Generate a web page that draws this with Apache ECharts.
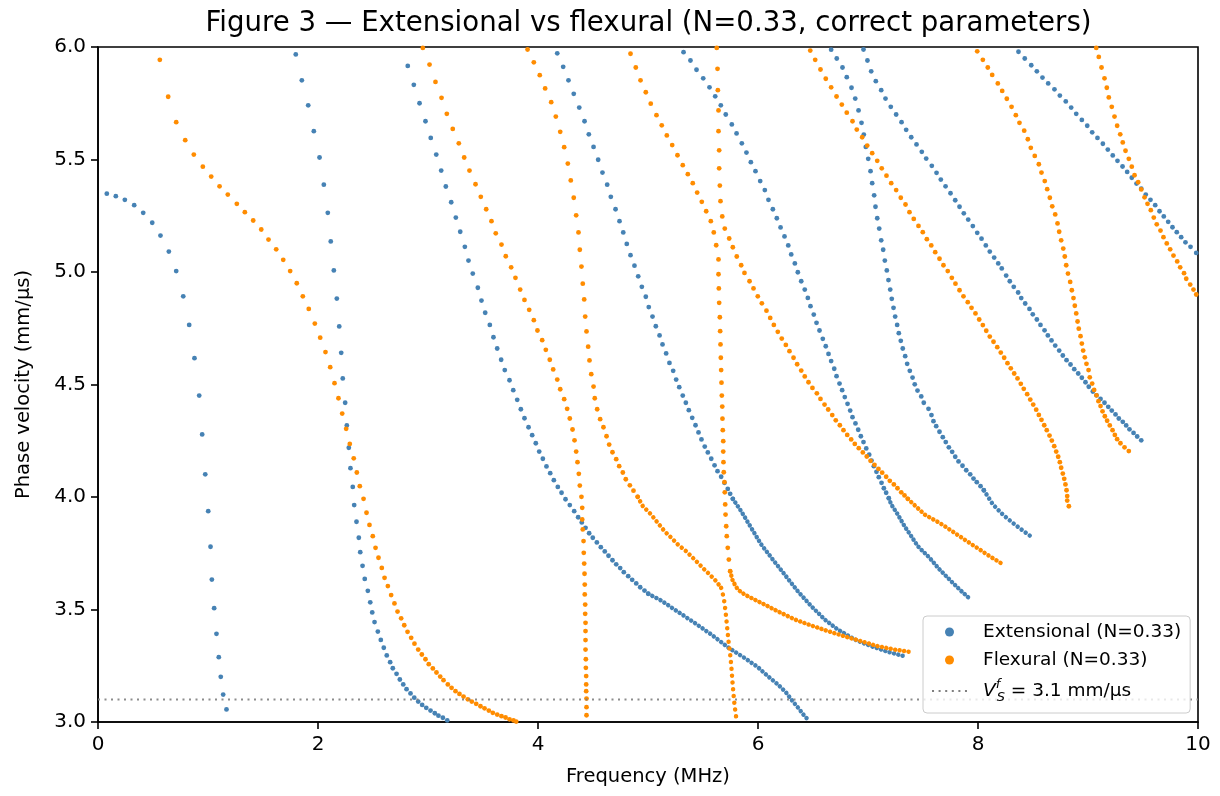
<!DOCTYPE html>
<html><head><meta charset="utf-8">
<script src="https://cdn.jsdelivr.net/npm/echarts@6/dist/echarts.min.js"></script>
<style>html,body{margin:0;padding:0;background:#fff}#chart{width:1220px;height:796px}</style>
</head><body><div id="chart"></div>
<script>
// ---- data (frequency MHz, phase velocity mm/us) ----
const titleText = 'Figure 3 \u2014 Extensional vs flexural (N=0.33, correct parameters)';
const xName = 'Frequency (MHz)';
const yName = 'Phase velocity (mm/\u03bcs)';
const xRange = [0, 10];
const yRange = [3, 6];
const xStep = 2;
const yStep = 0.5;
const vsValue = 3.1;

const ext1Dots = [[0.080,5.348],[0.162,5.337],[0.244,5.321],[0.329,5.297],[0.411,5.263],[0.493,5.219],[0.568,5.162],[0.644,5.091],[0.711,5.004],[0.775,4.892],[0.829,4.765],[0.877,4.617],[0.920,4.451],[0.947,4.278],[0.975,4.101],[1.002,3.937],[1.023,3.779],[1.035,3.633],[1.056,3.506],[1.077,3.392],[1.098,3.288],[1.116,3.201],[1.138,3.122],[1.168,3.056]];
const ext2Dots = [[1.798,5.967],[1.853,5.852],[1.911,5.741],[1.962,5.626],[2.014,5.509],[2.053,5.388],[2.089,5.263],[2.116,5.136],[2.144,5.007],[2.171,4.882],[2.193,4.758],[2.211,4.641],[2.225,4.527],[2.247,4.419],[2.262,4.318],[2.280,4.219],[2.295,4.128],[2.316,4.045],[2.329,3.964],[2.350,3.890],[2.371,3.819],[2.384,3.755],[2.405,3.694],[2.425,3.636],[2.453,3.583],[2.475,3.532],[2.493,3.487],[2.514,3.444],[2.544,3.402],[2.571,3.365],[2.598,3.330],[2.625,3.296],[2.656,3.266],[2.680,3.239],[2.714,3.214],[2.744,3.189],[2.775,3.167],[2.805,3.146],[2.841,3.127],[2.875,3.108],[2.911,3.091],[2.947,3.076],[2.984,3.063],[3.023,3.051],[3.062,3.039],[3.095,3.028],[3.135,3.019],[3.175,3.007]];
const ext3Dots = [[2.816,5.916],[2.871,5.832],[2.923,5.750],[2.977,5.670],[3.025,5.596],[3.075,5.522],[3.120,5.451],[3.162,5.380],[3.211,5.310],[3.253,5.242],[3.293,5.179],[3.335,5.112],[3.368,5.051],[3.407,4.993],[3.453,4.930],[3.486,4.873],[3.520,4.819],[3.562,4.765],[3.595,4.710],[3.629,4.660],[3.665,4.610],[3.698,4.564],[3.741,4.519],[3.775,4.475],[3.811,4.432],[3.844,4.390],[3.877,4.350],[3.914,4.310],[3.947,4.275],[3.980,4.239],[4.011,4.202],[4.044,4.170],[4.077,4.136],[4.111,4.106],[4.144,4.075],[4.180,4.045],[4.214,4.019],[4.250,3.990],[4.289,3.964],[4.329,3.937],[4.365,3.910],[4.398,3.887],[4.432,3.863],[4.465,3.839],[4.498,3.819],[4.535,3.798],[4.571,3.777],[4.607,3.758],[4.641,3.739],[4.677,3.719],[4.711,3.701],[4.747,3.684],[4.780,3.666],[4.820,3.648],[4.856,3.632],[4.893,3.616],[4.929,3.599],[4.968,3.584],[5.002,3.570]];
const ext3Trace = [[5.002,3.570],[5.120,3.540],[5.271,3.490],[5.423,3.441],[5.575,3.389],[5.741,3.327],[5.877,3.285],[5.998,3.244],[6.089,3.204],[6.180,3.167],[6.256,3.130],[6.316,3.092],[6.377,3.056],[6.423,3.026],[6.468,3.004]];
const ext4Dots = [[4.175,5.972],[4.229,5.912],[4.277,5.852],[4.325,5.792],[4.375,5.731],[4.423,5.670],[4.462,5.612],[4.505,5.556],[4.547,5.499],[4.586,5.442],[4.629,5.388],[4.662,5.334],[4.705,5.279],[4.741,5.226],[4.775,5.176],[4.807,5.125],[4.841,5.075],[4.877,5.028],[4.911,4.981],[4.944,4.934],[4.980,4.890],[5.007,4.844],[5.041,4.802],[5.071,4.759],[5.105,4.718],[5.132,4.678],[5.165,4.638],[5.195,4.596],[5.229,4.561],[5.256,4.522],[5.284,4.488],[5.316,4.451],[5.344,4.419],[5.371,4.386],[5.402,4.352],[5.432,4.319],[5.459,4.287],[5.486,4.256],[5.516,4.224],[5.544,4.198],[5.575,4.170],[5.605,4.141],[5.632,4.115],[5.665,4.090],[5.695,4.063],[5.725,4.036],[5.747,4.014],[5.771,3.992]];
const ext4Trace = [[5.771,3.992],[5.847,3.937],[5.938,3.863],[6.029,3.789],[6.135,3.722],[6.241,3.656],[6.362,3.581],[6.484,3.515],[6.605,3.456],[6.725,3.411],[6.877,3.367],[7.029,3.337],[7.180,3.312],[7.332,3.292]];
const ext5Dots = [[5.323,5.977],[5.386,5.940],[5.441,5.899],[5.502,5.861],[5.559,5.821],[5.611,5.781],[5.662,5.741],[5.707,5.700],[5.762,5.656],[5.805,5.616],[5.853,5.572],[5.895,5.531],[5.935,5.488],[5.977,5.448],[6.020,5.404],[6.062,5.364],[6.095,5.321],[6.135,5.279],[6.171,5.239],[6.205,5.198],[6.241,5.158],[6.275,5.118],[6.302,5.078],[6.335,5.038],[6.362,4.999],[6.393,4.959],[6.425,4.922],[6.453,4.885],[6.477,4.848],[6.507,4.811],[6.532,4.774],[6.559,4.740],[6.589,4.703],[6.616,4.670],[6.641,4.636],[6.665,4.604],[6.693,4.570],[6.714,4.537],[6.741,4.504],[6.765,4.475],[6.789,4.444],[6.814,4.414],[6.838,4.384],[6.859,4.355],[6.886,4.327],[6.911,4.299],[6.935,4.270],[6.959,4.244],[6.984,4.216],[7.011,4.188],[7.032,4.162],[7.053,4.137],[7.077,4.112],[7.098,4.088],[7.123,4.063],[7.144,4.039],[7.165,4.019],[7.189,3.995]];
const ext5Trace = [[7.189,3.995],[7.211,3.967],[7.271,3.922],[7.332,3.870],[7.393,3.826],[7.453,3.781],[7.559,3.730],[7.650,3.678],[7.741,3.633],[7.832,3.589],[7.916,3.552]];
const ext6Dots = [[6.665,5.988],[6.716,5.949],[6.768,5.909],[6.807,5.866],[6.850,5.819],[6.884,5.771],[6.914,5.718],[6.941,5.663],[6.962,5.611],[6.980,5.556],[7.002,5.503],[7.023,5.448],[7.038,5.395],[7.056,5.341],[7.068,5.290],[7.084,5.239],[7.102,5.193],[7.120,5.141],[7.138,5.099],[7.153,5.051],[7.171,5.007],[7.186,4.964],[7.202,4.922],[7.216,4.881],[7.232,4.841],[7.247,4.802],[7.265,4.765],[7.280,4.728],[7.298,4.694],[7.316,4.660],[7.338,4.626],[7.356,4.592],[7.380,4.561],[7.405,4.531],[7.425,4.501],[7.450,4.473],[7.484,4.447],[7.507,4.419],[7.550,4.392],[7.577,4.364],[7.595,4.337],[7.620,4.315],[7.650,4.290],[7.680,4.266],[7.707,4.244],[7.735,4.221],[7.765,4.201],[7.793,4.179],[7.823,4.158],[7.859,4.139],[7.893,4.119],[7.929,4.101],[7.959,4.082],[7.989,4.066],[8.023,4.048],[8.053,4.030]];
const ext6Trace = [[8.053,4.030],[8.135,3.967],[8.225,3.922],[8.316,3.885],[8.407,3.851],[8.507,3.816]];
const ext7Dots = [[6.959,5.989],[6.995,5.940],[7.029,5.892],[7.071,5.848],[7.120,5.808],[7.159,5.771],[7.207,5.734],[7.256,5.700],[7.305,5.666],[7.347,5.632],[7.393,5.599],[7.441,5.567],[7.489,5.534],[7.529,5.504],[7.580,5.472],[7.623,5.441],[7.662,5.411],[7.705,5.381],[7.750,5.350],[7.793,5.319],[7.832,5.290],[7.871,5.261],[7.911,5.233],[7.953,5.204],[7.993,5.174],[8.032,5.148],[8.071,5.118],[8.107,5.091],[8.147,5.064],[8.184,5.038],[8.216,5.016],[8.256,4.984],[8.289,4.959],[8.325,4.934],[8.365,4.909],[8.393,4.884],[8.429,4.860],[8.468,4.836],[8.498,4.812],[8.535,4.789],[8.568,4.765],[8.605,4.741],[8.635,4.718],[8.668,4.696],[8.702,4.673],[8.738,4.651],[8.771,4.629],[8.805,4.608],[8.841,4.589],[8.875,4.568],[8.911,4.549],[8.944,4.530],[8.977,4.510],[9.007,4.490],[9.044,4.469],[9.077,4.452],[9.114,4.436],[9.150,4.419],[9.184,4.401],[9.216,4.384],[9.250,4.367],[9.280,4.349],[9.316,4.334],[9.347,4.318],[9.377,4.301],[9.414,4.285],[9.447,4.269],[9.484,4.252]];
const ext8Dots = [[8.368,5.979],[8.425,5.949],[8.484,5.919],[8.535,5.892],[8.586,5.864],[8.638,5.838],[8.695,5.812],[8.744,5.784],[8.798,5.758],[8.847,5.731],[8.893,5.703],[8.944,5.676],[8.993,5.650],[9.038,5.621],[9.086,5.596],[9.135,5.570],[9.180,5.544],[9.225,5.518],[9.268,5.494],[9.314,5.469],[9.356,5.445],[9.398,5.419],[9.441,5.393],[9.484,5.370],[9.525,5.344],[9.568,5.321],[9.611,5.297],[9.650,5.270],[9.689,5.247],[9.729,5.223],[9.768,5.199],[9.807,5.177],[9.847,5.155],[9.886,5.132],[9.932,5.112],[9.984,5.085]];

const flex1Dots = [[0.562,5.943],[0.638,5.779],[0.711,5.666],[0.793,5.586],[0.871,5.522],[0.953,5.468],[1.029,5.424],[1.105,5.381],[1.180,5.344],[1.262,5.303],[1.335,5.266],[1.411,5.229],[1.484,5.189],[1.550,5.144],[1.620,5.101],[1.684,5.054],[1.747,5.004],[1.807,4.950],[1.862,4.892],[1.916,4.836],[1.971,4.771],[2.020,4.708],[2.068,4.644],[2.111,4.577],[2.150,4.506],[2.186,4.439],[2.220,4.371],[2.256,4.303],[2.289,4.236],[2.325,4.172],[2.353,4.109],[2.380,4.048],[2.414,3.992],[2.441,3.930],[2.468,3.876],[2.498,3.826],[2.523,3.774],[2.550,3.730],[2.580,3.685],[2.605,3.641],[2.635,3.604],[2.665,3.564],[2.695,3.527],[2.723,3.491],[2.756,3.461],[2.784,3.430],[2.814,3.401],[2.847,3.374],[2.877,3.348],[2.911,3.322],[2.944,3.300],[2.977,3.279],[3.007,3.257],[3.044,3.238],[3.077,3.220],[3.111,3.202],[3.141,3.186],[3.180,3.167],[3.214,3.152],[3.250,3.137],[3.286,3.125],[3.323,3.113],[3.362,3.101],[3.398,3.091],[3.438,3.081],[3.477,3.070],[3.514,3.061],[3.553,3.051],[3.589,3.041],[3.629,3.033],[3.668,3.026],[3.705,3.020],[3.741,3.012],[3.777,3.007],[3.802,3.002]];
const flex2Dots = [[2.953,5.996],[3.014,5.922],[3.068,5.845],[3.123,5.774],[3.171,5.703],[3.225,5.636],[3.280,5.572],[3.329,5.509],[3.377,5.451],[3.432,5.390],[3.480,5.334],[3.529,5.279],[3.577,5.226],[3.616,5.172],[3.668,5.122],[3.707,5.070],[3.756,5.021],[3.795,4.974],[3.838,4.922],[3.877,4.876],[3.920,4.832],[3.962,4.786],[3.995,4.740],[4.038,4.697],[4.071,4.654],[4.107,4.610],[4.138,4.567],[4.175,4.522],[4.202,4.479],[4.238,4.435],[4.265,4.392],[4.289,4.349],[4.314,4.300],[4.332,4.252],[4.347,4.202],[4.359,4.155],[4.371,4.103],[4.380,4.051],[4.395,4.001],[4.402,3.952],[4.402,3.900],[4.407,3.856],[4.414,3.804],[4.416,3.752],[4.420,3.704],[4.423,3.659],[4.425,3.611],[4.425,3.567],[4.429,3.522],[4.429,3.481],[4.432,3.441],[4.432,3.404],[4.432,3.364],[4.432,3.322],[4.435,3.279],[4.435,3.241],[4.438,3.204],[4.438,3.167],[4.438,3.137],[4.441,3.104],[4.441,3.066],[4.441,3.030]];
const flex3Dots = [[3.905,5.989],[3.962,5.932],[4.016,5.875],[4.065,5.816],[4.120,5.755],[4.162,5.691],[4.202,5.623],[4.238,5.555],[4.271,5.482],[4.298,5.407],[4.325,5.330],[4.347,5.252],[4.368,5.176],[4.380,5.099],[4.395,5.024],[4.407,4.948],[4.420,4.878],[4.429,4.802],[4.441,4.736],[4.456,4.668],[4.468,4.607],[4.484,4.546],[4.505,4.491],[4.516,4.439],[4.538,4.390],[4.565,4.346],[4.595,4.310],[4.623,4.270],[4.647,4.233],[4.677,4.199],[4.711,4.168],[4.738,4.137],[4.771,4.109],[4.798,4.079],[4.835,4.052],[4.868,4.028],[4.906,4.001]];
const flex3TraceA = [[4.906,4.001],[4.953,3.959],[5.029,3.922],[5.089,3.885],[5.150,3.848],[5.211,3.819],[5.271,3.789],[5.347,3.759],[5.423,3.722],[5.498,3.685],[5.575,3.648],[5.620,3.626],[5.665,3.596]];
const flex3TraceB = [[5.665,3.596],[5.689,3.552],[5.705,3.492],[5.720,3.419],[5.732,3.359],[5.744,3.315],[5.756,3.256],[5.765,3.196],[5.775,3.137],[5.786,3.078],[5.798,3.033],[5.807,3.004]];
const flex4Dots = [[4.841,5.970],[4.889,5.909],[4.932,5.852],[4.980,5.799],[5.025,5.748],[5.077,5.697],[5.125,5.652],[5.171,5.607],[5.220,5.564],[5.268,5.519],[5.316,5.475],[5.362,5.435],[5.407,5.395],[5.447,5.353],[5.489,5.312],[5.529,5.270],[5.571,5.226],[5.598,5.176],[5.620,5.119],[5.641,5.056],[5.641,4.990],[5.644,4.927],[5.647,4.863],[5.653,4.799],[5.656,4.737],[5.659,4.678],[5.662,4.619],[5.665,4.564],[5.668,4.508],[5.671,4.451],[5.675,4.402],[5.677,4.348],[5.680,4.297],[5.684,4.248],[5.684,4.202],[5.686,4.155],[5.689,4.110],[5.695,4.066],[5.698,4.021],[5.702,3.967],[5.705,3.922],[5.711,3.870],[5.716,3.826],[5.725,3.774],[5.735,3.722],[5.747,3.670]];
const flex4Trace = [[5.747,3.670],[5.771,3.626],[5.816,3.589],[5.877,3.567],[5.968,3.544],[6.059,3.522],[6.180,3.492],[6.332,3.456],[6.484,3.429],[6.635,3.404],[6.786,3.381],[6.938,3.359],[7.089,3.337],[7.241,3.322],[7.377,3.312]];
const flex5Dots = [[5.625,5.996],[5.632,5.903],[5.635,5.808],[5.641,5.718],[5.641,5.626],[5.647,5.541],[5.647,5.461],[5.653,5.384],[5.659,5.315],[5.675,5.247],[5.698,5.193],[5.738,5.149],[5.771,5.110],[5.807,5.069],[5.847,5.030],[5.877,4.996],[5.923,4.959],[5.959,4.927],[5.998,4.892],[6.035,4.861],[6.077,4.828],[6.111,4.796],[6.144,4.765],[6.180,4.734],[6.216,4.704],[6.253,4.676],[6.286,4.648],[6.323,4.619],[6.356,4.590],[6.393,4.562],[6.425,4.536],[6.459,4.510],[6.495,4.485],[6.535,4.461],[6.568,4.436],[6.605,4.411],[6.638,4.389],[6.675,4.364],[6.707,4.341],[6.744,4.319],[6.777,4.297],[6.811,4.276],[6.847,4.256],[6.880,4.236],[6.916,4.217],[6.953,4.198],[6.989,4.180],[7.023,4.161],[7.059,4.143],[7.095,4.125],[7.129,4.108],[7.165,4.090],[7.198,4.072],[7.235,4.056],[7.268,4.039],[7.302,4.021],[7.332,4.007],[7.362,3.992]];
const flex5Trace = [[7.362,3.992],[7.514,3.922],[7.650,3.885],[7.741,3.856],[7.832,3.826],[7.923,3.796],[8.014,3.767],[8.105,3.737],[8.195,3.710],[8.241,3.697]];
const flex6Dots = [[6.475,5.984],[6.520,5.943],[6.568,5.900],[6.616,5.859],[6.665,5.821],[6.714,5.780],[6.762,5.744],[6.807,5.708],[6.859,5.670],[6.898,5.633],[6.947,5.599],[6.993,5.562],[7.038,5.528],[7.084,5.494],[7.125,5.461],[7.168,5.428],[7.211,5.395],[7.256,5.364],[7.298,5.330],[7.341,5.300],[7.377,5.266],[7.416,5.236],[7.459,5.205],[7.498,5.177],[7.535,5.146],[7.575,5.118],[7.611,5.088],[7.650,5.059],[7.686,5.030],[7.725,5.004],[7.762,4.974],[7.795,4.948],[7.832,4.919],[7.868,4.892],[7.907,4.866],[7.941,4.841],[7.977,4.816],[8.011,4.789],[8.044,4.764],[8.075,4.739],[8.107,4.713],[8.141,4.690],[8.175,4.666],[8.207,4.642],[8.238,4.619],[8.268,4.595],[8.298,4.572],[8.329,4.549],[8.359,4.527],[8.389,4.503],[8.416,4.481],[8.447,4.457],[8.475,4.433],[8.502,4.411],[8.529,4.388],[8.553,4.365],[8.577,4.343],[8.602,4.319],[8.625,4.297],[8.650,4.273],[8.671,4.251],[8.693,4.226],[8.711,4.202],[8.729,4.179],[8.744,4.155],[8.756,4.130],[8.771,4.104],[8.784,4.081],[8.795,4.056],[8.805,4.030],[8.811,4.004],[8.811,3.984],[8.826,3.959]];
const flex7Dots = [[7.993,5.981],[8.044,5.943],[8.089,5.909],[8.129,5.876],[8.180,5.838],[8.220,5.805],[8.262,5.770],[8.305,5.734],[8.344,5.697],[8.377,5.663],[8.420,5.628],[8.453,5.590],[8.480,5.552],[8.516,5.516],[8.553,5.479],[8.577,5.442],[8.607,5.404],[8.629,5.368],[8.653,5.330],[8.675,5.292],[8.702,5.256],[8.723,5.216],[8.738,5.179],[8.756,5.141],[8.775,5.104],[8.789,5.069],[8.802,5.030],[8.818,4.993],[8.838,4.956],[8.853,4.919],[8.868,4.884],[8.880,4.850],[8.893,4.816],[8.905,4.780],[8.916,4.748],[8.932,4.715],[8.944,4.682],[8.956,4.651],[8.971,4.621],[8.986,4.592],[9.005,4.564],[9.016,4.532],[9.038,4.504],[9.056,4.476],[9.077,4.452],[9.095,4.426],[9.114,4.404],[9.132,4.381],[9.153,4.359],[9.174,4.339],[9.198,4.318],[9.223,4.297],[9.244,4.276],[9.265,4.257],[9.295,4.239],[9.332,4.221],[9.371,4.204]];
const flex8Dots = [[9.075,5.996],[9.098,5.956],[9.123,5.909],[9.150,5.861],[9.171,5.819],[9.189,5.776],[9.216,5.734],[9.241,5.691],[9.265,5.650],[9.293,5.612],[9.316,5.576],[9.341,5.539],[9.371,5.503],[9.398,5.468],[9.423,5.430],[9.456,5.399],[9.484,5.367],[9.514,5.332],[9.541,5.303],[9.571,5.275],[9.598,5.242],[9.625,5.212],[9.659,5.184],[9.686,5.155],[9.716,5.127],[9.747,5.101],[9.777,5.073],[9.811,5.047],[9.838,5.021],[9.873,4.995],[9.893,4.970],[9.929,4.944],[9.959,4.922],[9.984,4.900]];

// ---- styles ----
const BLUE = '#4682b4', ORANGE = '#ff8c00', GRAY = '#808080';
const FONT = '"DejaVu Sans", "Liberation Sans", sans-serif';
const EXT = 'Extensional (N=0.33)', FLEX = 'Flexural (N=0.33)', VS = 'vs';
const traceGap = { ext3Trace: 4.6, ext4Trace: 4.5, ext5Trace: 4.4, ext6Trace: 5.0,
  flex3TraceA: 5.2, flex3TraceB: 6.8, flex4Trace: 4.5, flex5Trace: 4.7 };

const series = [];
function dots(name, color, data) {
  series.push({ type: 'scatter', name, data, symbol: 'circle', symbolSize: 4.8,
    itemStyle: { color, opacity: 1 },
    silent: true, clip: true, z: 3 });
}
function trace(name, color, data, gap) {
  series.push({ type: 'line', name, data, symbol: 'none', showSymbol: false,
    lineStyle: { color, width: 4.5, type: [0.01, gap], cap: 'round', join: 'round', opacity: 1 },
    itemStyle: { color }, silent: true, clip: true, z: 3 });
}
dots(EXT, BLUE, ext1Dots); dots(EXT, BLUE, ext2Dots); dots(EXT, BLUE, ext3Dots);
trace(EXT, BLUE, ext3Trace, traceGap.ext3Trace);
dots(EXT, BLUE, ext4Dots); trace(EXT, BLUE, ext4Trace, traceGap.ext4Trace);
dots(EXT, BLUE, ext5Dots); trace(EXT, BLUE, ext5Trace, traceGap.ext5Trace);
dots(EXT, BLUE, ext6Dots); trace(EXT, BLUE, ext6Trace, traceGap.ext6Trace);
dots(EXT, BLUE, ext7Dots); dots(EXT, BLUE, ext8Dots);

dots(FLEX, ORANGE, flex1Dots); dots(FLEX, ORANGE, flex2Dots); dots(FLEX, ORANGE, flex3Dots);
trace(FLEX, ORANGE, flex3TraceA, traceGap.flex3TraceA);
trace(FLEX, ORANGE, flex3TraceB, traceGap.flex3TraceB);
dots(FLEX, ORANGE, flex4Dots); trace(FLEX, ORANGE, flex4Trace, traceGap.flex4Trace);
dots(FLEX, ORANGE, flex5Dots); trace(FLEX, ORANGE, flex5Trace, traceGap.flex5Trace);
dots(FLEX, ORANGE, flex6Dots); dots(FLEX, ORANGE, flex7Dots); dots(FLEX, ORANGE, flex8Dots);

series.push({ type: 'line', name: VS, data: [[xRange[0], vsValue], [xRange[1], vsValue]],
  symbol: 'none', showSymbol: false, silent: true, z: 4,
  lineStyle: { color: GRAY, width: 2, type: [2, 4.5], opacity: 0.9 }, itemStyle: { color: GRAY } });

const dottedIcon = 'path://M0,0h2v2h-2zM6.5,0h2v2h-2zM13,0h2v2h-2zM19.5,0h2v2h-2zM26,0h2v2h-2zM32.5,0h2v2h-2z';

const chart = echarts.init(document.getElementById('chart'), null, { renderer: 'canvas' });
chart.setOption({
  animation: false,
  backgroundColor: '#fff',
  grid: { left: 98, top: 47, width: 1100, height: 675, show: true,
    borderColor: '#000', borderWidth: 1.6, backgroundColor: 'transparent' },
  xAxis: { type: 'value', min: xRange[0], max: xRange[1], interval: xStep,
    name: xName, nameLocation: 'middle', nameGap: 45,
    nameTextStyle: { fontFamily: FONT, fontSize: 19.5, color: '#000' },
    axisLine: { show: true, onZero: false, lineStyle: { color: '#000', width: 1.6 } },
    axisTick: { show: true, length: 7, lineStyle: { color: '#000', width: 1.6 } },
    axisLabel: { fontFamily: FONT, fontSize: 20, color: '#000', margin: 13,
      formatter: v => String(v) },
    splitLine: { show: false } },
  yAxis: { type: 'value', min: yRange[0], max: yRange[1], interval: yStep,
    name: yName, nameLocation: 'middle', nameGap: 64,
    nameTextStyle: { fontFamily: FONT, fontSize: 19.5, color: '#000' },
    axisLine: { show: true, onZero: false, lineStyle: { color: '#000', width: 1.6 } },
    axisTick: { show: true, length: 7, lineStyle: { color: '#000', width: 1.6 } },
    axisLabel: { fontFamily: FONT, fontSize: 20, color: '#000', margin: 12,
      formatter: v => v.toFixed(1) },
    splitLine: { show: false } },
  legend: {
    orient: 'vertical', left: 923, top: 616, padding: [6, 9, 9, 9],
    itemWidth: 35, itemHeight: 9, itemGap: 8, selectedMode: false,
    backgroundColor: 'rgba(255,255,255,0.8)', borderColor: '#cccccc', borderWidth: 1, borderRadius: 4,
    data: [{ name: EXT, icon: 'circle' }, { name: FLEX, icon: 'circle' }, { name: VS, icon: dottedIcon }],
    formatter: n => n === VS ? '{v|V}{f|f}{s|S}{t| = 3.1 mm/\u03bcs}' : n,
    textStyle: { fontFamily: FONT, fontSize: 18.5, color: '#000', lineHeight: 20, padding: [0, 0, 0, 11],
      rich: {
        v: { fontFamily: FONT, fontSize: 18.5, fontStyle: 'italic', lineHeight: 26, verticalAlign: 'middle', color: '#000' },
        f: { fontFamily: FONT, fontSize: 13, fontStyle: 'italic', lineHeight: 7, verticalAlign: 'top', width: 1, color: '#000' },
        s: { fontFamily: FONT, fontSize: 13, fontStyle: 'italic', lineHeight: 13, verticalAlign: 'bottom', color: '#000' },
        t: { fontFamily: FONT, fontSize: 18.5, lineHeight: 26, verticalAlign: 'middle', color: '#000' }
      } },
    z: 10
  },
  graphic: [{ type: 'text', x: 648.5, y: 24, z: 10, silent: true,
    style: { text: titleText, fontFamily: FONT, fontSize: 27.6, fill: '#000',
      align: 'center', verticalAlign: 'middle' } }],
  series
});
</script></body></html>
